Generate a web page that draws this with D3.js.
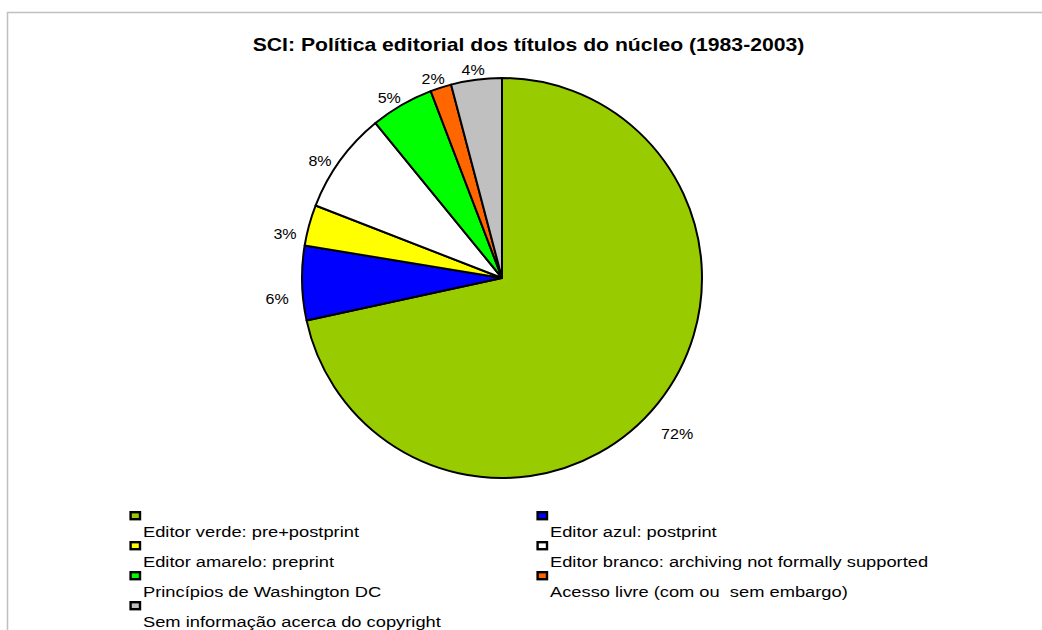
<!DOCTYPE html>
<html><head><meta charset="utf-8">
<script src="https://cdn.jsdelivr.net/npm/d3@7"></script>
<style>
html,body{margin:0;padding:0;background:#fff;}
svg{display:block;font-family:"Liberation Sans",Arial,sans-serif;}
</style></head>
<body>
<svg id="chart" width="1042" height="630"></svg>
<script>
const categories = [
  "Editor verde: pre+postprint",
  "Editor azul: postprint",
  "Editor amarelo: preprint",
  "Editor branco: archiving not formally supported",
  "Princípios de Washington DC",
  "Acesso livre (com ou  sem embargo)",
  "Sem informação acerca do copyright"
];
const values = [71.6, 6.0, 3.3, 8.2, 5.1, 1.7, 4.1];
const colors = ["#99CC00", "#0000FF", "#FFFF00", "#FFFFFF", "#00FF00", "#FF6600", "#C0C0C0"];
const title = "SCI: Política editorial dos títulos do núcleo (1983-2003)";

const svg = d3.select("#chart");

function stretchedText(parent, x, y, sx, txt) {
  return parent.append("text")
    .attr("transform", `translate(${x},${y}) scale(${sx},1)`)
    .attr("fill", "#000").attr("xml:space", "preserve").style("white-space", "pre")
    .text(txt);
}

// frame
svg.append("rect").attr("x", 7.5).attr("y", 12.5).attr("width", 1200).attr("height", 800)
  .attr("fill", "none").attr("stroke", "#c0c0c0").attr("stroke-width", 1.5);

stretchedText(svg, 528.5, 51, 1.177, title)
  .attr("text-anchor", "middle").attr("font-size", 18).attr("font-weight", "bold");

const cx = 502, cy = 278, R = 200;
const total = d3.sum(values);
const pie = d3.pie().sort(null).value(d => d);
const arcs = pie(values);
const arc = d3.arc().innerRadius(0).outerRadius(R);
const labelArc = d3.arc().innerRadius(225).outerRadius(225);

const g = svg.append("g").attr("transform", `translate(${cx},${cy})`);
g.selectAll("path.slice").data(arcs).enter().append("path")
  .attr("class", "slice")
  .attr("d", arc)
  .attr("fill", (d, i) => colors[i])
  .attr("stroke", "#000").attr("stroke-width", 2).attr("stroke-linejoin", "round");

arcs.forEach(d => {
  const [lx, ly] = labelArc.centroid(d);
  stretchedText(g, lx, ly + 20, 1.07, Math.round(d.value / total * 100) + "%")
    .attr("text-anchor", "middle").attr("font-size", 15);
});

// legend
const colX = [130, 537];
const leg = svg.append("g");
categories.forEach((c, i) => {
  const col = i % 2, row = Math.floor(i / 2);
  const x = colX[col], y = 511 + row * 30;
  leg.append("rect").attr("x", x + 0.6).attr("y", y + 1.2).attr("width", 9.4).attr("height", 7)
    .attr("fill", colors[i]).attr("stroke", "#000").attr("stroke-width", 2.4);
  stretchedText(leg, x + 13, y + 25.5, 1.22, c).attr("font-size", 15);
});
</script>
</body></html>
